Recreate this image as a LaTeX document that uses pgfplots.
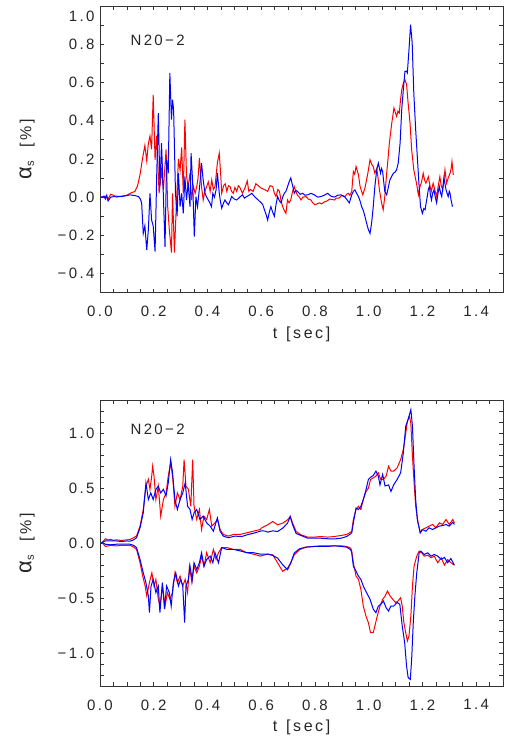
\documentclass[border=0pt]{standalone}
\usepackage{fontspec}
\setmainfont{Liberation Sans}[LetterSpace=16]
\usepackage{pgfplots}
\pgfplotsset{compat=1.18}
\newcommand{\fs}{\fontsize{15}{18}\selectfont}
\newcommand{\yl}{{\fontsize{22}{22}\selectfont α}{\fontsize{16}{18}\selectfont\textsubscript{s}\hspace{13pt}[\%]}}
\pgfplotsset{
 myaxis/.style={
  scale only axis, width=403pt, anchor=south west,
  xmin=0, xmax=1.5,
  xtick={0,0.2,0.4,0.6,0.8,1.0,1.2,1.4},
  xticklabels={0.0,0.2,0.4,0.6,0.8,1.0,1.2,1.4},
  minor xtick={0.05,0.1,0.15,0.25,0.3,0.35,0.45,0.5,0.55,0.65,0.7,0.75,0.85,0.9,0.95,1.05,1.1,1.15,1.25,1.3,1.35,1.45},
  tick align=inside,
  major tick length=4pt, minor tick length=4pt,
  axis line style={black!80, line width=0.6pt},
  every tick/.style={black!80, line width=0.6pt},
  tick label style={font=\fs, text=black!85},
  xticklabel style={yshift=-10pt},
  yticklabel style={xshift=-2pt},
  xlabel={t\hspace{9pt}[sec]},
  xlabel style={font=\fontsize{16}{18}\selectfont, text=black!85, at={(axis description cs:0.5,-0.145)}, anchor=center},
  ylabel={\yl},
  ylabel style={text=black!85, at={(axis description cs:-0.181,0.5)}, anchor=center},
  every axis plot/.append style={line width=1pt, no markers},
 }
}
\begin{document}
\begin{tikzpicture}
\useasboundingbox (0,0) rectangle (522pt,745pt);
% ---------------- top panel ----------------
\begin{axis}[myaxis, at={(100pt,452.3pt)}, height=286.7pt,
  ymin=-0.5, ymax=1.0,
  ytick={-0.4,-0.2,0,0.2,0.4,0.6,0.8},
  yticklabels={−0.4,−0.2,0.0,0.2,0.4,0.6,0.8},
  extra y ticks={1.0}, extra y tick labels={1.0},
  extra y tick style={yticklabel style={yshift=-10pt}},
  minor ytick={-0.5,-0.3,-0.1,0.1,0.3,0.5,0.7,0.9}]
\addplot[red] coordinates {
(0.005,0.0)(0.02,0.005)(0.03,-0.01)(0.04,0.015)(0.05,0.01)(0.06,0.0)(0.08,0.005)(0.1,0.01)
(0.112,0.02)(0.13,0.03)(0.14,0.06)(0.149,0.117)(0.158,0.2)(0.167,0.27)(0.174,0.19)(0.18,0.28)
(0.186,0.32)(0.192,0.25)(0.198,0.535)(0.205,0.195)(0.211,0.32)(0.22,0.02)(0.229,0.14)(0.236,0.04)
(0.246,0.25)(0.252,-0.05)(0.258,-0.17)(0.266,-0.29)(0.27,0.02)(0.277,-0.29)(0.285,-0.015)(0.292,0.2)
(0.298,0.14)(0.304,0.26)(0.31,0.02)(0.316,0.405)(0.322,0.11)(0.328,0.055)(0.335,0.125)(0.341,-0.015)
(0.347,0.06)(0.354,0.02)(0.36,0.055)(0.365,0.1)(0.37,0.205)(0.378,0.055)(0.384,-0.015)(0.39,0.03)
(0.397,0.055)(0.403,0.08)(0.41,0.03)(0.416,0.09)(0.422,0.04)(0.428,0.055)(0.437,0.18)(0.444,0.23)
(0.45,0.1)(0.453,0.02)(0.46,0.06)(0.466,0.07)(0.472,0.03)(0.478,0.06)(0.484,0.055)(0.49,0.03)
(0.496,0.02)(0.502,0.05)(0.509,0.03)(0.515,0.06)(0.521,0.05)(0.53,0.02)(0.54,0.05)(0.548,0.085)
(0.554,0.03)(0.56,0.04)(0.57,0.03)(0.58,0.07)(0.589,0.06)(0.6,0.047)(0.612,0.04)(0.624,0.03)
(0.633,0.06)(0.643,0.055)(0.649,0.02)(0.655,0.003)(0.662,0.04)(0.668,0.03)(0.674,-0.02)(0.68,-0.05)
(0.686,-0.07)(0.692,-0.085)(0.698,-0.015)(0.704,-0.03)(0.71,-0.015)(0.717,0.03)(0.723,0.055)(0.729,0.03)
(0.735,0.01)(0.742,0.0)(0.748,-0.015)(0.755,0.0)(0.767,0.003)(0.775,-0.01)(0.785,-0.015)(0.792,-0.03)
(0.8,-0.04)(0.808,-0.035)(0.816,-0.03)(0.825,-0.035)(0.835,-0.025)(0.845,-0.02)(0.855,-0.01)(0.872,-0.015)
(0.88,-0.005)(0.89,-0.005)(0.9,0.01)(0.912,0.003)(0.918,0.015)(0.924,0.02)(0.93,0.01)(0.937,0.03)
(0.943,0.134)(0.948,0.12)(0.953,0.16)(0.962,0.117)(0.968,0.056)(0.978,0.012)(0.986,0.047)(0.992,0.09)
(0.997,0.125)(1.005,0.195)(1.012,0.17)(1.017,0.16)(1.023,0.125)(1.03,0.15)(1.035,0.1)(1.04,0.038)
(1.048,-0.03)(1.054,-0.066)(1.06,0.003)(1.067,0.125)(1.072,0.2)(1.077,0.283)(1.086,0.387)(1.094,0.466)
(1.1,0.44)(1.104,0.422)(1.109,0.45)(1.114,0.44)(1.118,0.5)(1.123,0.562)(1.13,0.6)(1.135,0.614)
(1.141,0.59)(1.147,0.49)(1.154,0.387)(1.16,0.248)(1.168,0.143)(1.174,0.1)(1.178,0.073)(1.185,0.012)
(1.191,0.055)(1.197,0.08)(1.203,0.125)(1.208,0.09)(1.213,0.073)(1.218,0.09)(1.222,0.107)(1.228,0.06)
(1.233,0.03)(1.24,0.073)(1.246,0.04)(1.253,0.003)(1.258,0.05)(1.265,0.107)(1.27,0.06)(1.276,0.038)
(1.28,0.09)(1.284,0.143)(1.29,0.073)(1.296,0.1)(1.303,0.125)(1.307,0.15)(1.31,0.186)(1.315,0.116)
};
\addplot[blue] coordinates {
(0.005,0.0)(0.015,0.005)(0.02,-0.01)(0.025,0.01)(0.03,-0.02)(0.04,0.0)(0.06,0.005)(0.08,0.003)
(0.1,0.008)(0.112,0.012)(0.13,0.008)(0.143,0.003)(0.15,-0.01)(0.155,-0.03)(0.161,-0.19)(0.167,-0.15)
(0.174,-0.276)(0.18,-0.17)(0.186,0.02)(0.192,-0.12)(0.198,-0.15)(0.205,-0.285)(0.211,0.108)(0.217,0.44)
(0.223,0.056)(0.229,0.283)(0.236,0.003)(0.242,-0.26)(0.248,0.195)(0.254,0.125)(0.26,0.65)(0.266,0.405)
(0.27,0.51)(0.274,0.457)(0.281,0.02)(0.287,-0.1)(0.292,0.126)(0.298,-0.05)(0.304,0.02)(0.31,-0.085)
(0.316,0.108)(0.322,-0.015)(0.328,0.073)(0.335,-0.05)(0.339,0.23)(0.345,0.073)(0.351,-0.206)(0.357,0.003)
(0.363,-0.05)(0.372,0.073)(0.378,0.178)(0.384,0.09)(0.391,0.02)(0.397,0.0)(0.403,-0.015)(0.409,-0.03)
(0.415,-0.05)(0.42,0.02)(0.426,0.0)(0.432,0.037)(0.437,0.125)(0.444,0.02)(0.448,-0.02)(0.453,-0.058)
(0.46,-0.03)(0.465,-0.015)(0.472,-0.03)(0.478,-0.04)(0.484,-0.02)(0.49,0.003)(0.5,-0.01)(0.509,-0.015)
(0.52,0.0)(0.53,0.012)(0.538,-0.005)(0.546,0.003)(0.555,0.01)(0.565,0.02)(0.577,0.0)(0.589,-0.015)
(0.6,-0.03)(0.606,-0.04)(0.612,-0.066)(0.618,-0.09)(0.624,-0.12)(0.63,-0.08)(0.636,-0.05)(0.643,-0.08)
(0.649,-0.1)(0.655,-0.04)(0.661,0.003)(0.668,-0.02)(0.674,-0.03)(0.68,0.0)(0.686,0.02)(0.692,0.03)
(0.698,0.055)(0.704,0.08)(0.71,0.1)(0.717,0.06)(0.723,0.02)(0.73,0.035)(0.735,0.03)(0.745,0.015)
(0.754,0.02)(0.763,0.01)(0.773,0.012)(0.785,0.02)(0.798,0.012)(0.81,0.0)(0.822,0.003)(0.835,0.01)
(0.847,0.02)(0.86,0.005)(0.872,0.0)(0.885,0.01)(0.897,0.012)(0.905,0.005)(0.912,0.0)(0.92,-0.015)
(0.928,-0.03)(0.937,0.012)(0.943,0.03)(0.949,0.038)(0.955,0.02)(0.962,0.003)(0.968,-0.02)(0.974,-0.05)
(0.98,-0.07)(0.986,-0.1)(0.993,-0.14)(0.999,-0.17)(1.005,-0.19)(1.011,-0.135)(1.017,-0.05)(1.023,0.055)
(1.03,0.143)(1.036,0.178)(1.044,0.125)(1.048,0.15)(1.052,0.134)(1.056,0.08)(1.06,0.03)(1.067,0.012)
(1.073,0.05)(1.079,0.09)(1.086,0.11)(1.092,0.125)(1.098,0.13)(1.104,0.143)(1.11,0.178)(1.117,0.283)
(1.123,0.457)(1.129,0.562)(1.135,0.657)(1.14,0.66)(1.144,0.65)(1.15,0.77)(1.156,0.902)(1.162,0.806)
(1.168,0.545)(1.175,0.352)(1.181,0.213)(1.187,0.073)(1.193,-0.05)(1.2,-0.085)(1.205,-0.06)(1.21,-0.066)
(1.214,-0.03)(1.218,0.003)(1.222,0.04)(1.226,0.055)(1.23,0.01)(1.234,-0.015)(1.238,0.02)(1.243,0.038)
(1.248,0.0)(1.253,-0.03)(1.258,0.02)(1.263,0.055)(1.268,0.02)(1.272,0.003)(1.276,0.05)(1.28,0.1)
(1.284,0.07)(1.288,0.038)(1.292,0.02)(1.296,0.003)(1.3,0.03)(1.303,0.02)(1.306,-0.01)(1.309,-0.03)(1.312,-0.05)
};
\node[anchor=west, font=\fs, text=black!85] at (rel axis cs:0.067,0.881) {N20−2};
\end{axis}
% ---------------- bottom panel ----------------
\begin{axis}[myaxis, at={(100pt,59pt)}, height=285.7pt,
  ymin=-1.3, ymax=1.3,
  ytick={-1,-0.5,0,0.5,1},
  yticklabels={−1.0,−0.5,0.0,0.5,1.0},
  minor ytick={-1.2,-1.1,-0.9,-0.8,-0.7,-0.6,-0.4,-0.3,-0.2,-0.1,0.1,0.2,0.3,0.4,0.6,0.7,0.8,0.9,1.1,1.2}]
\addplot[red] coordinates {
(0.005,0.0)(0.01,0.01)(0.02,0.04)(0.03,0.03)(0.04,0.035)(0.05,0.025)(0.06,0.03)(0.08,0.025)(0.1,0.03)
(0.112,0.034)(0.125,0.05)(0.136,0.064)(0.149,0.155)(0.161,0.306)(0.171,0.518)(0.18,0.58)(0.186,0.49)
(0.192,0.6)(0.196,0.70)(0.201,0.61)(0.208,0.397)(0.217,0.518)(0.226,0.245)(0.236,0.397)(0.246,0.457)
(0.254,0.61)(0.263,0.73)(0.27,0.61)(0.279,0.336)(0.288,0.457)(0.298,0.397)(0.308,0.518)(0.313,0.76)
(0.32,0.518)(0.329,0.49)(0.338,0.336)(0.345,0.76)(0.35,0.336)(0.36,0.215)(0.37,0.306)(0.378,0.124)
(0.387,0.245)(0.397,0.215)(0.407,0.306)(0.416,0.155)(0.428,0.185)(0.437,0.215)(0.447,0.124)(0.459,0.079)
(0.478,0.064)(0.496,0.079)(0.521,0.079)(0.546,0.094)(0.571,0.109)(0.596,0.124)(0.6,0.136)(0.614,0.155)
(0.624,0.167)(0.643,0.197)(0.661,0.167)(0.68,0.182)(0.698,0.212)(0.708,0.242)(0.717,0.182)(0.73,0.106)
(0.748,0.076)(0.773,0.055)(0.798,0.055)(0.822,0.06)(0.847,0.055)(0.872,0.06)(0.897,0.07)(0.918,0.079)
(0.933,0.1)(0.937,0.109)(0.943,0.215)(0.953,0.306)(0.962,0.336)(0.971,0.306)(0.98,0.397)(0.99,0.47)
(0.999,0.5)(1.007,0.58)(1.017,0.594)(1.027,0.61)(1.036,0.64)(1.045,0.58)(1.055,0.58)(1.065,0.61)
(1.074,0.7)(1.083,0.655)(1.093,0.655)(1.106,0.685)(1.119,0.76)(1.129,0.852)(1.138,1.0)(1.144,1.11)
(1.152,1.155)(1.157,1.09)(1.163,0.79)(1.169,0.55)(1.175,0.336)(1.184,0.185)(1.192,0.094)(1.2,0.124)
(1.213,0.14)(1.225,0.155)(1.238,0.17)(1.25,0.14)(1.263,0.185)(1.275,0.17)(1.288,0.215)(1.3,0.17)
(1.313,0.215)(1.319,0.185)
};
\addplot[red] coordinates {
(0.005,0.0)(0.01,0.0)(0.02,-0.03)(0.04,-0.02)(0.06,-0.025)(0.08,-0.02)(0.1,-0.02)(0.112,-0.02)
(0.125,-0.035)(0.136,-0.057)(0.149,-0.178)(0.159,-0.3)(0.168,-0.39)(0.174,-0.48)(0.184,-0.36)(0.193,-0.27)
(0.201,-0.39)(0.208,-0.33)(0.217,-0.51)(0.223,-0.573)(0.233,-0.39)(0.242,-0.573)(0.251,-0.45)(0.26,-0.51)
(0.27,-0.45)(0.279,-0.27)(0.288,-0.36)(0.298,-0.3)(0.308,-0.39)(0.317,-0.33)(0.326,-0.45)(0.333,-0.21)
(0.342,-0.36)(0.35,-0.21)(0.36,-0.27)(0.37,-0.21)(0.378,-0.118)(0.387,-0.21)(0.397,-0.087)(0.41,-0.178)
(0.422,-0.057)(0.432,-0.148)(0.441,-0.087)(0.453,-0.04)(0.472,-0.04)(0.496,-0.057)(0.521,-0.057)(0.546,-0.087)
(0.571,-0.1)(0.596,-0.118)(0.624,-0.1)(0.643,-0.106)(0.661,-0.18)(0.68,-0.257)(0.698,-0.227)(0.71,-0.18)
(0.723,-0.106)(0.742,-0.06)(0.767,-0.036)(0.798,-0.03)(0.822,-0.024)(0.847,-0.024)(0.872,-0.024)(0.897,-0.024)
(0.918,-0.03)(0.933,-0.045)(0.937,-0.073)(0.943,-0.178)(0.953,-0.3)(0.962,-0.33)(0.971,-0.42)(0.98,-0.573)
(0.99,-0.664)(0.999,-0.724)(1.007,-0.815)(1.017,-0.815)(1.023,-0.755)(1.032,-0.664)(1.042,-0.573)(1.052,-0.512)
(1.061,-0.482)(1.07,-0.436)(1.08,-0.482)(1.09,-0.512)(1.1,-0.54)(1.108,-0.53)(1.119,-0.497)(1.125,-0.573)
(1.131,-0.724)(1.138,-0.815)(1.144,-0.89)(1.15,-0.845)(1.157,-0.664)(1.163,-0.39)(1.169,-0.209)(1.179,-0.118)
(1.188,-0.073)(1.197,-0.088)(1.207,-0.118)(1.22,-0.11)(1.232,-0.133)(1.244,-0.118)(1.257,-0.178)(1.27,-0.133)
(1.282,-0.2)(1.294,-0.15)(1.306,-0.178)(1.319,-0.2)
};
\addplot[blue] coordinates {
(0.005,0.0)(0.01,0.01)(0.02,0.02)(0.04,0.02)(0.06,0.02)(0.08,0.015)(0.1,0.02)(0.112,0.018)
(0.125,0.03)(0.136,0.049)(0.149,0.14)(0.161,0.276)(0.171,0.548)(0.18,0.397)(0.189,0.457)(0.198,0.397)
(0.208,0.49)(0.217,0.518)(0.226,0.457)(0.236,0.49)(0.246,0.43)(0.254,0.548)(0.263,0.76)(0.27,0.64)
(0.279,0.397)(0.288,0.306)(0.298,0.397)(0.308,0.457)(0.317,0.548)(0.326,0.336)(0.335,0.306)(0.343,0.215)
(0.35,0.276)(0.36,0.306)(0.372,0.215)(0.384,0.245)(0.397,0.185)(0.41,0.155)(0.422,0.109)(0.437,0.23)
(0.447,0.109)(0.459,0.064)(0.478,0.049)(0.502,0.064)(0.527,0.06)(0.552,0.079)(0.577,0.094)(0.6,0.112)
(0.614,0.11)(0.624,0.1)(0.643,0.112)(0.661,0.106)(0.68,0.136)(0.698,0.182)(0.708,0.242)(0.717,0.167)
(0.73,0.088)(0.748,0.07)(0.773,0.045)(0.798,0.045)(0.822,0.045)(0.847,0.04)(0.872,0.038)(0.897,0.045)
(0.918,0.06)(0.933,0.085)(0.937,0.094)(0.943,0.185)(0.953,0.32)(0.962,0.306)(0.971,0.336)(0.98,0.397)
(0.99,0.485)(0.999,0.58)(1.007,0.6)(1.017,0.615)(1.027,0.655)(1.036,0.61)(1.042,0.53)(1.052,0.625)
(1.061,0.52)(1.074,0.53)(1.083,0.47)(1.093,0.53)(1.106,0.58)(1.119,0.64)(1.129,0.82)(1.138,1.064)
(1.146,1.12)(1.157,1.215)(1.163,1.064)(1.169,0.7)(1.175,0.397)(1.181,0.215)(1.192,0.094)(1.2,0.124)
(1.213,0.109)(1.225,0.14)(1.238,0.124)(1.25,0.14)(1.263,0.155)(1.275,0.16)(1.288,0.17)(1.3,0.155)
(1.313,0.19)(1.319,0.17)
};
\addplot[blue] coordinates {
(0.005,0.0)(0.01,0.005)(0.02,-0.01)(0.04,-0.015)(0.06,-0.01)(0.08,-0.01)(0.1,-0.01)(0.112,-0.01)
(0.125,-0.02)(0.136,-0.04)(0.149,-0.148)(0.161,-0.27)(0.171,-0.36)(0.18,-0.48)(0.184,-0.633)(0.19,-0.39)
(0.198,-0.33)(0.208,-0.45)(0.217,-0.39)(0.223,-0.633)(0.232,-0.36)(0.24,-0.6)(0.248,-0.39)(0.258,-0.45)
(0.265,-0.573)(0.273,-0.36)(0.282,-0.27)(0.292,-0.39)(0.3,-0.33)(0.308,-0.39)(0.315,-0.724)(0.32,-0.39)
(0.329,-0.33)(0.335,-0.21)(0.343,-0.33)(0.35,-0.178)(0.36,-0.24)(0.37,-0.178)(0.378,-0.087)(0.387,-0.21)
(0.397,-0.148)(0.41,-0.118)(0.42,-0.178)(0.428,-0.087)(0.441,-0.178)(0.453,-0.04)(0.472,-0.057)(0.496,-0.057)
(0.521,-0.07)(0.546,-0.087)(0.571,-0.087)(0.596,-0.1)(0.624,-0.1)(0.643,-0.112)(0.661,-0.136)(0.68,-0.197)
(0.698,-0.242)(0.71,-0.18)(0.723,-0.09)(0.742,-0.052)(0.767,-0.036)(0.798,-0.03)(0.822,-0.03)(0.847,-0.03)
(0.872,-0.024)(0.897,-0.03)(0.918,-0.036)(0.933,-0.06)(0.937,-0.088)(0.943,-0.21)(0.953,-0.255)(0.962,-0.3)
(0.971,-0.33)(0.98,-0.39)(0.992,-0.45)(1.005,-0.51)(1.017,-0.6)(1.027,-0.633)(1.036,-0.573)(1.045,-0.557)
(1.055,-0.527)(1.065,-0.588)(1.074,-0.618)(1.083,-0.573)(1.093,-0.573)(1.106,-0.54)(1.116,-0.557)(1.125,-0.755)
(1.134,-0.906)(1.141,-1.118)(1.147,-1.224)(1.155,-1.24)(1.16,-1.058)(1.166,-0.724)(1.172,-0.482)(1.179,-0.27)
(1.188,-0.088)(1.194,-0.073)(1.207,-0.103)(1.22,-0.088)(1.232,-0.118)(1.244,-0.103)(1.257,-0.118)(1.27,-0.148)
(1.282,-0.13)(1.294,-0.178)(1.306,-0.14)(1.319,-0.2)
};
\node[anchor=west, font=\fs, text=black!85] at (rel axis cs:0.067,0.90) {N20−2};
\end{axis}
\end{tikzpicture}
\end{document}
